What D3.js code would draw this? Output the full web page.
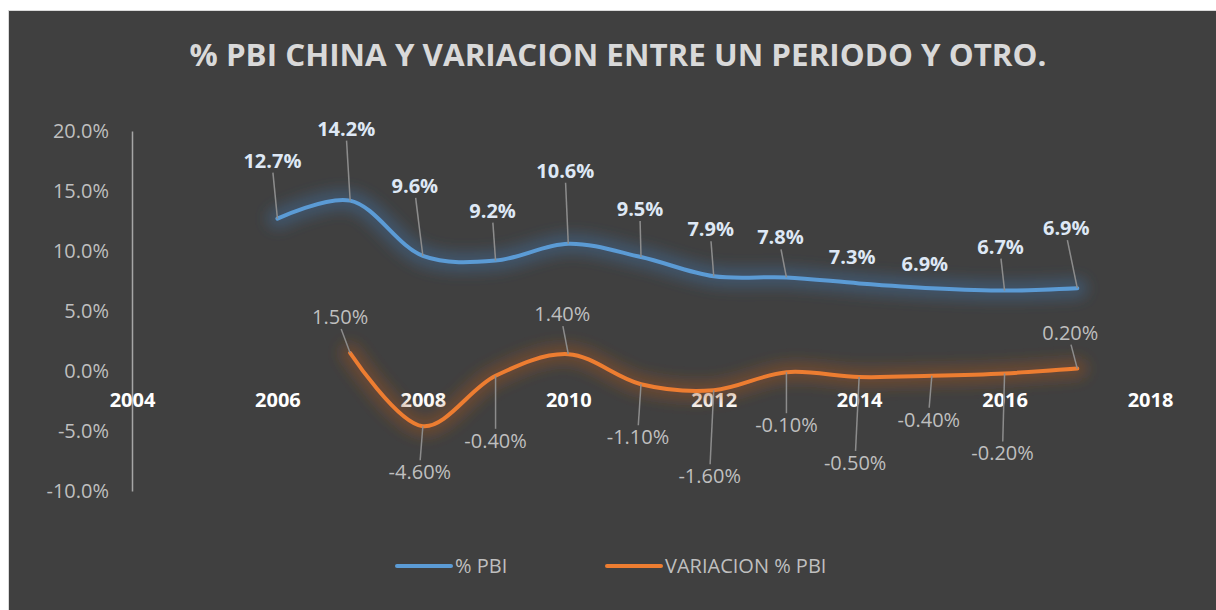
<!DOCTYPE html>
<html>
<head>
<meta charset="utf-8">
<script src="https://cdn.jsdelivr.net/npm/d3@7"></script>
<style>
  body { margin: 0; background: #ffffff; }
  svg text { font-family: "Open Sans", "Noto Sans", sans-serif; }
</style>
</head>
<body>
<div id="chart"></div>
<script>
// data
var years = [2006, 2007, 2008, 2009, 2010, 2011, 2012, 2013, 2014, 2015, 2016, 2017];
var pbi = [12.7, 14.2, 9.6, 9.2, 10.6, 9.5, 7.9, 7.8, 7.3, 6.9, 6.7, 6.9];
var varYears = [2007, 2008, 2009, 2010, 2011, 2012, 2013, 2014, 2015, 2016, 2017];
var variacion = [1.5, -4.6, -0.4, 1.4, -1.1, -1.6, -0.1, -0.5, -0.4, -0.2, 0.2];
var xTicks = [2004, 2006, 2008, 2010, 2012, 2014, 2016, 2018];
var yTicks = [-10, -5, 0, 5, 10, 15, 20];
var seriesNames = ["% PBI", "VARIACION % PBI"];

// manual label placement (pixel offsets from each point, like Excel's dragged labels)
var pbiLabelOffset = [[-5, -58], [-4, -72], [-8, -70], [-3, -50], [-3, -73], [-1, -48],
                      [-3, -47], [-6, -40], [-7, -26], [-7, -24], [-4, -44], [-11, -60]];
var varLabelOffset = [[-10, -36], [-3, 46], [0, 65], [-6, -40], [-3, 53], [-4, 86],
                      [0, 53], [-4, 86], [-3, 44], [-2, 80], [-7, -36]];

var width = 1216;
var height = 610;

var svg = d3.select("#chart")
    .append("svg")
    .attr("width", width)
    .attr("height", height);

// chart area background + border
svg.append("rect")
    .attr("x", 8.5)
    .attr("y", 10.5)
    .attr("width", width + 10)
    .attr("height", height + 10)
    .attr("fill", "#404040")
    .attr("stroke", "#d9d9d9")
    .attr("stroke-width", 1);

var defs = svg.append("defs");
defs.append("filter")
    .attr("id", "glow")
    .attr("x", "-20%").attr("y", "-50%")
    .attr("width", "140%").attr("height", "200%")
    .append("feGaussianBlur")
    .attr("stdDeviation", 7);

svg.append("text")
    .attr("x", 618)
    .attr("y", 66)
    .attr("text-anchor", "middle")
    .attr("font-size", 31)
    .attr("font-weight", "bold")
    .attr("fill", "#d9d9d9")
    .attr("textLength", 857)
    .attr("lengthAdjust", "spacingAndGlyphs")
    .text("% PBI CHINA Y VARIACION ENTRE UN PERIODO Y OTRO.");

var xScale = d3.scaleLinear()
    .domain([2004, 2018])
    .range([132, 1150]);

var yScale = d3.scaleLinear()
    .domain([-10, 20])
    .range([491, 131]);

// y axis
var yAxis = d3.axisLeft(yScale)
    .tickValues(yTicks)
    .tickSize(0)
    .tickPadding(23)
    .tickFormat(function (d) { return d.toFixed(1) + "%"; });

var gy = svg.append("g")
    .attr("transform", "translate(" + xScale(2004) + ",0)")
    .call(yAxis);
gy.select(".domain").attr("stroke", "#a6a6a6").attr("stroke-width", 1.5);
gy.selectAll("text")
    .attr("font-size", 20)
    .attr("fill", "#bfbfbf")
    .attr("font-family", "Open Sans");

// x axis labels sit just below the zero line, no axis line
var xAxis = d3.axisBottom(xScale)
    .tickValues(xTicks)
    .tickSize(0)
    .tickPadding(22)
    .tickFormat(d3.format("d"));

var gx = svg.append("g")
    .attr("transform", "translate(0," + yScale(0) + ")")
    .call(xAxis);
gx.select(".domain").remove();
gx.selectAll("text")
    .attr("font-size", 20)
    .attr("font-weight", "bold")
    .attr("fill", "#ffffff")
    .attr("font-family", "Open Sans");

var line = d3.line()
    .x(function (d) { return xScale(d[0]); })
    .y(function (d) { return yScale(d[1]); })
    .curve(d3.curveCatmullRom.alpha(0.5));

var pbiData = years.map(function (y, i) { return [y, pbi[i]]; });
var varData = varYears.map(function (y, i) { return [y, variacion[i]]; });

function drawSeries(data, color, glowColor) {
    svg.append("path")
        .datum(data)
        .attr("d", line)
        .attr("fill", "none")
        .attr("stroke", glowColor)
        .attr("stroke-width", 20)
        .attr("stroke-opacity", 0.45)
        .attr("stroke-linecap", "round")
        .attr("filter", "url(#glow)");
    svg.append("path")
        .datum(data)
        .attr("d", line)
        .attr("fill", "none")
        .attr("stroke", color)
        .attr("stroke-width", 4)
        .attr("stroke-linecap", "round");
}

drawSeries(pbiData, "#5b9bd5", "#3f6f9e");
drawSeries(varData, "#ed7d31", "#9a5424");

function drawLabels(data, offsets, fmt, textColor, weight) {
    data.forEach(function (d, i) {
        var px = xScale(d[0]), py = yScale(d[1]);
        var lx = px + offsets[i][0], ly = py + offsets[i][1];
        var dist = Math.abs(offsets[i][1]);
        if (dist > 30) {
            var startY = offsets[i][1] < 0 ? ly + 12 : ly - 12;
            svg.append("line")
                .attr("x1", lx + offsets[i][0] * -0.1)
                .attr("y1", startY)
                .attr("x2", px)
                .attr("y2", py)
                .attr("stroke", "#8c8c8c")
                .attr("stroke-width", 1.5);
        }
        svg.append("text")
            .attr("x", lx)
            .attr("y", ly)
            .attr("dy", "0.35em")
            .attr("text-anchor", "middle")
            .attr("font-size", 20)
            .attr("font-weight", weight)
            .attr("fill", textColor)
            .text(fmt(d[1]));
    });
}

drawLabels(pbiData, pbiLabelOffset, function (v) { return v.toFixed(1) + "%"; }, "#dee8f5", "bold");
drawLabels(varData, varLabelOffset, function (v) { return v.toFixed(2) + "%"; }, "#bfbfbf", "normal");

// legend
var legend = [
    { name: seriesNames[0], color: "#5b9bd5", x: 397 },
    { name: seriesNames[1], color: "#ed7d31", x: 607 }
];
var lg = svg.selectAll(".legend")
    .data(legend)
    .enter()
    .append("g")
    .attr("class", "legend")
    .attr("transform", function (d) { return "translate(" + d.x + ",566)"; });
lg.append("line")
    .attr("x1", 0).attr("x2", 54)
    .attr("y1", 0).attr("y2", 0)
    .attr("stroke", function (d) { return d.color; })
    .attr("stroke-width", 4)
    .attr("stroke-linecap", "round");
lg.append("text")
    .attr("x", 58)
    .attr("y", 0)
    .attr("dy", "0.35em")
    .attr("font-size", 20)
    .attr("fill", "#bfbfbf")
    .text(function (d) { return d.name; });
</script>
</body>
</html>
